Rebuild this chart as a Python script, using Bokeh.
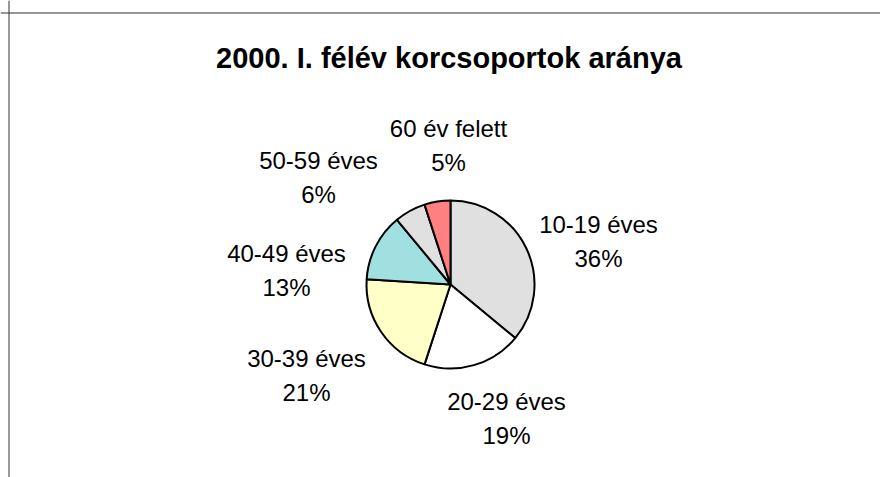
import math
from bokeh.plotting import figure
from bokeh.models import Range1d, Span, ColumnDataSource
from bokeh.core.properties import value
from bokeh.embed import file_html
from bokeh.resources import INLINE

# ---- data ----
title = "2000. I. félév korcsoportok aránya"
categories = ["10-19 éves", "20-29 éves", "30-39 éves", "40-49 éves", "50-59 éves", "60 év felett"]
shares = [36, 19, 21, 13, 6, 5]

# ---- styles / layout (not data) ----
colors = ["#E0E0E0", "#FFFFFF", "#FFFFC8", "#A0E0E0", "#E0E0E0", "#FF8080"]
# label block centres, offset from pie centre (pixels, y up)
label_offsets = [(148, 42), (56, -135), (-144, -92), (-164, 13), (-132, 106), (-2, 138)]

W, H = 880, 477
OFF = 0                              # page offset of the figure
cx_page, cy_page = 450, 284          # pie centre in page pixels
R = 84
TXT_ADJ = 9.5                        # vertical correction for text rendering

p = figure(width=W, height=H, output_backend="svg", toolbar_location=None,
           x_range=Range1d(OFF - cx_page, OFF + W - cx_page),
           y_range=Range1d(cy_page - OFF - H, cy_page - OFF),
           min_border=0, min_border_left=0, min_border_right=0,
           min_border_top=0, min_border_bottom=0)
p.axis.visible = False
p.grid.visible = False
p.outline_line_color = None
p.background_fill_color = "white"
p.border_fill_color = "white"

# pie wedges, clockwise from 12 o'clock
total = float(sum(shares))
starts, ends = [], []
acc = 0.0
for v in shares:
    a0 = acc / total * 2 * math.pi
    acc += v
    a1 = acc / total * 2 * math.pi
    starts.append(math.pi / 2 - a0)
    ends.append(math.pi / 2 - a1)

src = ColumnDataSource(dict(x=[0] * len(shares), y=[0] * len(shares),
                            start=starts, end=ends, color=colors))
p.wedge(x="x", y="y", radius=R, start_angle="start", end_angle="end",
        direction="clock", fill_color="color", line_color="black",
        line_width=2, source=src)

# labels
cap = 0.358 * 24
names_x, names_y, pct_x, pct_y, pct_txt = [], [], [], [], []
for (dx, dy), v in zip(label_offsets, shares):
    names_x.append(dx)
    names_y.append(dy + 17 - cap + TXT_ADJ)
    pct_x.append(dx)
    pct_y.append(dy - 17 - cap + TXT_ADJ)
    pct_txt.append(f"{v}%")

p.text(x=names_x, y=names_y, text=categories, text_align="center",
       text_baseline="alphabetic", text_font=value("Liberation Sans"),
       text_font_size="24px", text_color="black")
p.text(x=pct_x, y=pct_y, text=pct_txt, text_align="center",
       text_baseline="alphabetic", text_font=value("Liberation Sans"),
       text_font_size="24px", text_color="black")

# title
p.text(x=[-1.5], y=[cy_page - 67 + TXT_ADJ], text=[title], text_align="center",
       text_baseline="alphabetic", text_font=value("Liberation Sans"),
       text_font_style="bold", text_font_size="29px", text_color="black")

# chart area border (top and left visible)
p.add_layout(Span(location=cy_page - 12.5, dimension="width", line_color="#303030", line_width=1))
p.add_layout(Span(location=8.5 - cx_page, dimension="height", line_color="#303030", line_width=1))

open("out.html", "w").write(file_html(p, INLINE))
